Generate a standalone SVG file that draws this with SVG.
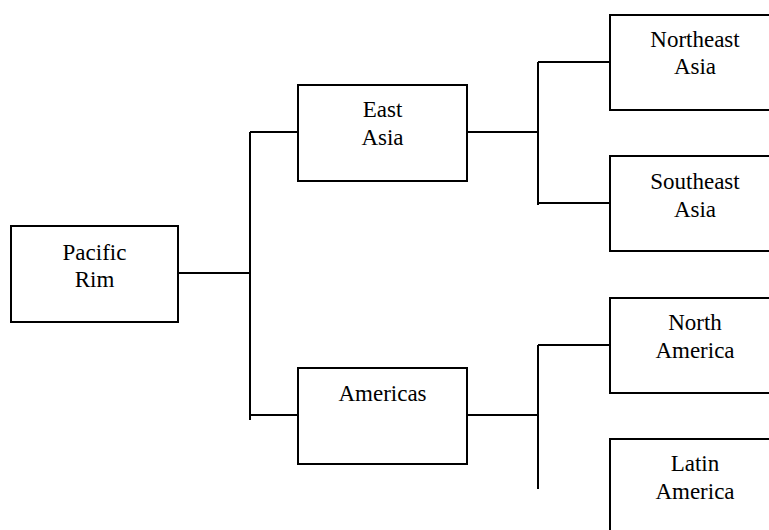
<svg xmlns="http://www.w3.org/2000/svg" width="769" height="530" viewBox="0 0 769 530">
<style>
.box{fill:#fff;stroke:#000;stroke-width:2}
.ln{fill:none;stroke:#000;stroke-width:2}
text{font-family:"Liberation Serif","Times New Roman",serif;font-size:23px;fill:#000;text-anchor:middle}
</style>
<rect width="769" height="530" fill="#fff"/>
<g id="connectors" class="ln">
<path d="M178 273H250M250 132V420M250 132H298M250 415H298"/>
<path d="M467 132H538M538 62V205M538 62H610M538 203H610"/>
<path d="M467 415H538M538 345V489M538 345H610"/>
</g>
<g id="pacific-rim">
<rect class="box" x="11" y="226" width="167" height="96"/>
<text x="94.5" y="260">Pacific</text>
<text x="94.5" y="287">Rim</text>
</g>
<g id="east-asia">
<rect class="box" x="298" y="85" width="169" height="96"/>
<text x="382.5" y="117">East</text>
<text x="382.5" y="145">Asia</text>
</g>
<g id="americas">
<rect class="box" x="298" y="368" width="169" height="96"/>
<text x="382.5" y="401">Americas</text>
</g>
<g id="northeast-asia">
<rect class="box" x="610" y="15" width="170" height="95"/>
<text x="695" y="47">Northeast</text>
<text x="695" y="74">Asia</text>
</g>
<g id="southeast-asia">
<rect class="box" x="610" y="156" width="170" height="95"/>
<text x="695" y="189">Southeast</text>
<text x="695" y="217">Asia</text>
</g>
<g id="north-america">
<rect class="box" x="610" y="298" width="170" height="95"/>
<text x="695" y="330">North</text>
<text x="695" y="358">America</text>
</g>
<g id="latin-america">
<rect class="box" x="610" y="439" width="170" height="100"/>
<text x="695" y="471">Latin</text>
<text x="695" y="499">America</text>
</g>
</svg>
